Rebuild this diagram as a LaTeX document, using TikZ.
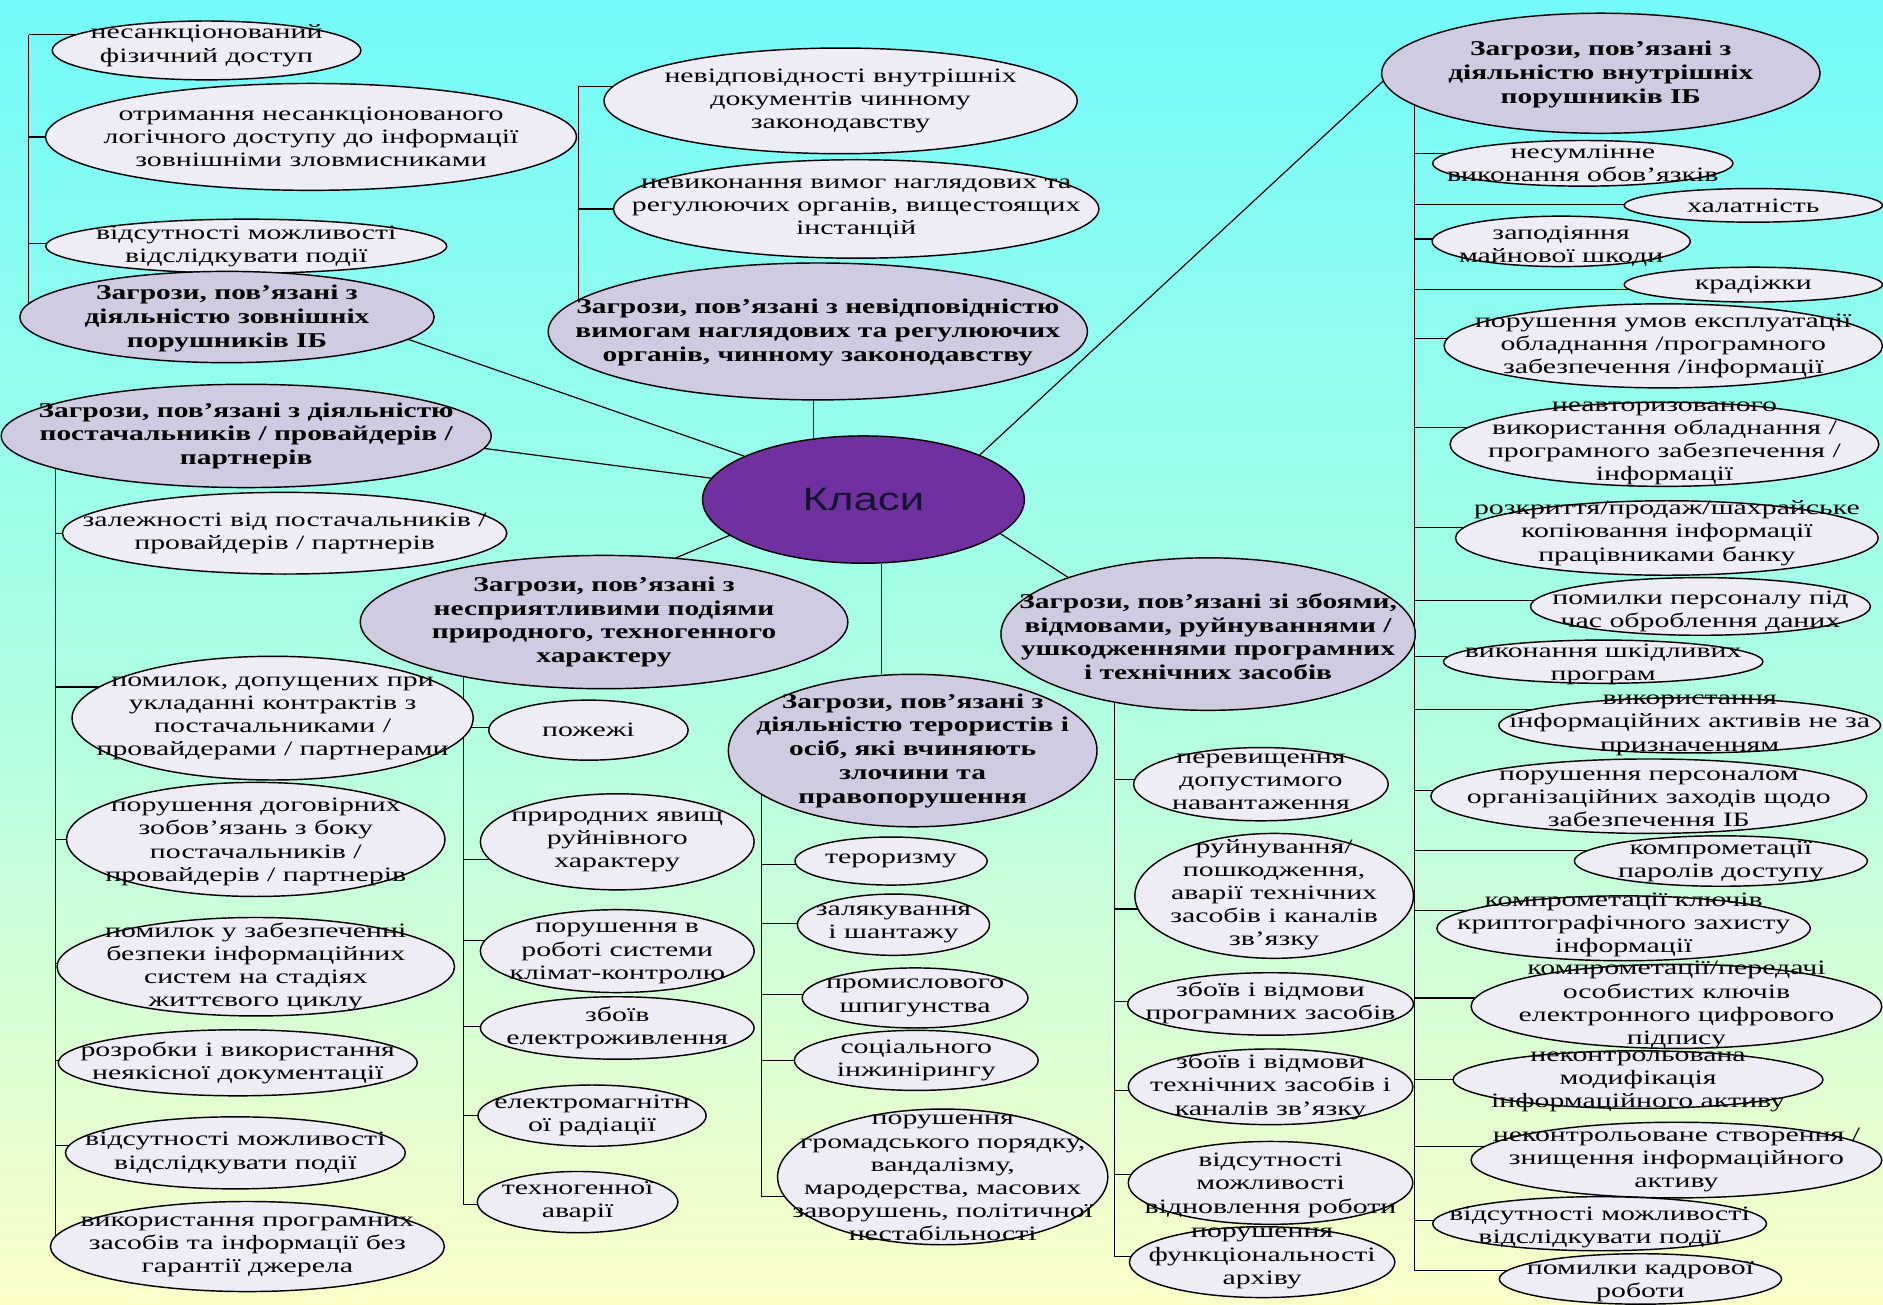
\documentclass[tikz,border=0pt]{standalone}
\usepackage{fontspec}
\usetikzlibrary{shapes.geometric}

\newfontfamily\thrLight[FakeStretch=1.46]{Liberation Serif}
\newfontfamily\thrBold[FakeStretch=1.4]{Liberation Serif}
\newfontfamily\thrTitle[FakeStretch=1.35]{Liberation Sans}
\newcommand\ltfont{\thrLight\fontsize{17}{19.3}\selectfont}
\newcommand\catfont{\thrBold\bfseries\fontsize{17.5}{19.8}\selectfont}
\newcommand\klfont{\thrTitle\fontsize{27}{30}\selectfont}

\definecolor{bgtop}{RGB}{115,250,250}
\definecolor{bgmid}{RGB}{170,255,228}
\definecolor{bgbot}{RGB}{252,255,200}
\definecolor{lightfill}{RGB}{238,236,245}
\definecolor{catfill}{RGB}{207,203,225}
\definecolor{klasifill}{RGB}{112,48,160}
\definecolor{klasitext}{RGB}{20,20,50}

\pgfdeclarelayer{bg}
\pgfdeclarelayer{lines}
\pgfsetlayers{bg,lines,main}

\tikzset{
  lt/.style={ellipse, draw=black, line width=1.2pt, fill=lightfill, inner sep=0pt, outer sep=0pt},
  cat/.style={ellipse, draw=black, line width=1.2pt, fill=catfill, inner sep=0pt, outer sep=0pt},
  lttxt/.style={font=\ltfont, align=center, inner sep=0pt, text=black},
  cattxt/.style={font=\catfont, align=center, inner sep=0pt, text=black},
  conn/.style={draw=black, line width=1pt},
}

% ellipse: style, name, cx, cy, width, height, text shift, text
\newcommand\E[8]{\node[#1, minimum width=#5pt, minimum height=#6pt,
  label={[#1txt, yshift=#7pt]center:{#8}}] (#2) at (#3,#4) {};}
% horizontal branch from a trunk to a node at height y
\newcommand\tk[3]{\draw[conn]
  (perpendicular cs: horizontal line through={(0,#3)}, vertical line through={(#2)}) --
  (perpendicular cs: horizontal line through={(0,#3)}, vertical line through={(#1)});}

\begin{document}
\begin{tikzpicture}[x=1pt, y=-1pt]
\useasboundingbox (0,0) rectangle (1568,1086);
\begin{pgfonlayer}{bg}
  \shade[top color=bgtop, bottom color=bgbot, middle color=bgmid] (0,0) rectangle (1568,1086);
\end{pgfonlayer}

% centre
\node[ellipse, draw=black, line width=1.2pt, fill=klasifill, minimum width=268pt,
  minimum height=106pt, inner sep=0pt, font=\klfont, text=klasitext] (klasi) at (719,416) {Класи};

% external violators
\E{lt}{n1}{172}{42}{257}{49}{4}{несанкціонований\\фізичний доступ}
\E{lt}{n2}{259}{114}{442}{89}{0}{отримання несанкціонованого\\логічного доступу до інформації\\зовнішніми зловмисниками}
\E{lt}{n3}{205}{205}{334}{45}{0}{відсутності можливості\\відслідкувати події}
\E{cat}{extcat}{189}{264}{345}{76}{-1}{Загрози, пов’язані з\\діяльністю зовнішніх\\порушників ІБ}

% suppliers
\E{cat}{supcat}{205}{363}{408}{86}{0}{Загрози, пов’язані з діяльністю\\постачальників / провайдерів /\\партнерів}
\E{lt}{s1}{237}{444}{370}{68}{0}{залежності від постачальників /\\провайдерів / партнерів}
\E{lt}{s2}{227}{598}{334}{103}{0}{помилок, допущених при\\укладанні контрактів з\\постачальниками /\\провайдерами / партнерами}
\E{lt}{s3}{213}{699}{315}{95}{-2}{порушення договірних\\зобов’язань з боку\\постачальників /\\провайдерів / партнерів}
\E{lt}{s4}{213}{805}{331}{82}{0}{помилок у забезпеченні\\безпеки інформаційних\\систем на стадіях\\життєвого циклу}
\E{lt}{s5}{198}{885}{299}{55}{0}{розробки і використання\\неякісної документації}
\E{lt}{s6}{196}{960}{283}{60}{0}{відсутності можливості\\відслідкувати події}
\E{lt}{s7}{206}{1038}{328}{75}{0}{використання програмних\\засобів та інформації без\\гарантії джерела}

% regulatory
\E{lt}{r1}{700}{84}{394}{88}{0}{невідповідності внутрішніх\\документів чинному\\законодавству}
\E{lt}{r2}{713}{174}{404}{82}{0}{невиконання вимог наглядових та\\регулюючих органів, вищестоящих\\інстанцій}
\E{cat}{regcat}{681}{276}{449}{114}{-1}{Загрози, пов’язані з невідповідністю\\вимогам наглядових та регулюючих\\органів, чинному законодавству}

% internal violators
\E{cat}{intcat}{1333}{61}{365}{100}{-1}{Загрози, пов’язані з\\діяльністю внутрішніх\\порушників ІБ}
\E{lt}{i1}{1318}{136}{250}{38}{0}{несумлінне\\виконання обов’язків}
\E{lt}{i2}{1460}{171}{215}{28}{0}{халатність}
\E{lt}{i3}{1300}{201}{215}{42}{-4}{заподіяння\\майнової шкоди}
\E{lt}{i4}{1460}{237}{215}{29}{0}{крадіжки}
\E{lt}{i5}{1385}{288}{365}{70}{0}{порушення умов експлуатації\\обладнання /програмного\\забезпечення /інформації}
\E{lt}{i6}{1386}{370}{357}{70}{1}{неавторизованого\\використання обладнання /\\програмного забезпечення /\\інформації}
\E{lt}{i7}{1388}{448}{352}{62}{4}{розкриття/продаж/шахрайське\\копіювання інформації\\працівниками банку}
\E{lt}{i8}{1416}{505}{283}{48}{-4}{помилки персоналу під\\час оброблення даних}
\E{lt}{i9}{1335}{551}{266}{36}{-2}{виконання шкідливих\\програм}
\E{lt}{i10}{1407}{604}{318}{46}{0}{використання\\інформаційних активів не за\\призначенням}
\E{lt}{i11}{1373}{663}{363}{62}{-2}{порушення персоналом\\організаційних заходів щодо\\забезпечення ІБ}
\E{lt}{i12}{1433}{717}{244}{42}{0}{компрометації\\паролів доступу}
\E{lt}{i13}{1352}{773}{311}{54}{3}{компрометації ключів\\криптографічного захисту\\інформації}
\E{lt}{i14}{1396}{838}{342}{70}{1}{компрометації/передачі\\особистих ключів\\електронного цифрового\\підпису}
\E{lt}{i15}{1364}{899}{308}{48}{-2}{неконтрольована\\модифікація\\інформаційного активу}
\E{lt}{i16}{1396}{966}{342}{63}{0}{неконтрольоване створення /\\знищення інформаційного\\активу}
\E{lt}{i17}{1332}{1019}{278}{45}{-3}{відсутності можливості\\відслідкувати події}
\E{lt}{i18}{1366}{1065}{235}{42}{-2}{помилки кадрової\\роботи}

% hardware and software failures
\E{cat}{techcat}{1006}{528}{345}{127}{-2}{Загрози, пов’язані зі збоями,\\відмовами, руйнуваннями /\\ушкодженнями програмних\\і технічних засобів}
\E{lt}{t1}{1050}{653}{212}{61}{2}{перевищення\\допустимого\\навантаження}
\E{lt}{t2}{1061}{746}{232}{104}{1}{руйнування/\\пошкодження,\\аварії технічних\\засобів і каналів\\зв’язку}
\E{lt}{t3}{1058}{836}{238}{52}{1}{збоїв і відмови\\програмних засобів}
\E{lt}{t4}{1058}{905}{237}{63}{0}{збоїв і відмови\\технічних засобів і\\каналів зв’язку}
\E{lt}{t5}{1058}{985}{237}{69}{-2}{відсутності\\можливості\\відновлення роботи}
\E{lt}{t6}{1051}{1051}{221}{59}{3}{порушення\\функціональності\\архіву}

% terrorists and criminals
\E{cat}{tercat}{760}{625}{307}{127}{0}{Загрози, пов’язані з\\діяльністю терористів і\\осіб, які вчиняють\\злочини та\\правопорушення}
\E{lt}{e1}{742}{717}{160}{40}{0}{тероризму}
\E{lt}{e2}{744}{770}{160}{51}{0}{залякування\\і шантажу}
\E{lt}{e3}{762}{831}{188}{50}{0}{промислового\\шпигунства}
\E{lt}{e4}{763}{883}{203}{50}{0}{соціального\\інжинірингу}
\E{lt}{e5}{785}{980}{275}{113}{-1}{порушення\\громадського порядку,\\вандалізму,\\мародерства, масових\\заворушень, політичної\\нестабільності}

% natural and man-made events
\E{cat}{natcat}{503}{518}{406}{111}{0}{Загрози, пов’язані з\\несприятливими подіями\\природного, техногенного\\характеру}
\E{lt}{a1}{490}{608}{166}{50}{0}{пожежі}
\E{lt}{a2}{514}{701}{228}{80}{0}{природних явищ\\руйнівного\\характеру}
\E{lt}{a3}{514}{792}{228}{69}{-2}{порушення в\\роботі системи\\клімат-контролю}
\E{lt}{a4}{514}{856}{228}{52}{0}{збоїв\\електроживлення}
\E{lt}{a5}{493}{929}{190}{51}{0}{електромагнітн\\ої радіації}
\E{lt}{a6}{481}{1001}{167}{51}{0}{техногенної\\аварії}

% trunk ends
\coordinate (extTop) at (24,29);
\coordinate (supBot) at (46,1037);
\coordinate (regTop) at (482,72);
\coordinate (intBot) at (1178,1058);
\coordinate (techBot) at (928,1046);
\coordinate (terBot) at (634,996);
\coordinate (natBot) at (386,1003);

\begin{pgfonlayer}{lines}
  % links to the centre
  \draw[conn] (extcat.-7) -- (klasi.160);
  \draw[conn] (supcat.-3) -- (klasi.172);
  \draw[conn] (klasi.129) -- (perpendicular cs: vertical line through={(klasi.129)}, horizontal line through={(regcat.south)});
  \draw[conn] (intcat.182) -- (klasi.21);
  \draw[conn] (techcat.158) -- (klasi.-14);
  \draw[conn] (klasi.-74) -- (perpendicular cs: vertical line through={(klasi.-74)}, horizontal line through={(tercat.north)});
  \draw[conn] (natcat.42) -- (klasi.195);

  % trunks
  \draw[conn] (extTop) -- (extTop |- extcat);
  \draw[conn] (supcat -| supBot) -- (supBot);
  \draw[conn] (regTop) -- (regTop |- regcat);
  \draw[conn] (intcat -| intBot) -- (intBot);
  \draw[conn] (techcat -| techBot) -- (techBot);
  \draw[conn] (tercat -| terBot) -- (terBot);
  \draw[conn] (natcat -| natBot) -- (natBot);

  % branches
  \tk{n1}{extTop}{29} \tk{n2}{extTop}{114} \tk{n3}{extTop}{203}
  \tk{s1}{supBot}{444} \tk{s2}{supBot}{572} \tk{s3}{supBot}{699} \tk{s4}{supBot}{802}
  \tk{s5}{supBot}{883} \tk{s6}{supBot}{954} \tk{s7}{supBot}{1037}
  \tk{r1}{regTop}{72} \tk{r2}{regTop}{174}
  \tk{i1}{intBot}{128} \tk{i2}{intBot}{170} \tk{i3}{intBot}{199} \tk{i4}{intBot}{241}
  \tk{i5}{intBot}{282} \tk{i6}{intBot}{356} \tk{i7}{intBot}{439} \tk{i8}{intBot}{500}
  \tk{i9}{intBot}{547} \tk{i10}{intBot}{591} \tk{i11}{intBot}{658} \tk{i12}{intBot}{708}
  \tk{i13}{intBot}{758} \tk{i14}{intBot}{831} \tk{i15}{intBot}{899} \tk{i16}{intBot}{955}
  \tk{i17}{intBot}{1016} \tk{i18}{intBot}{1058}
  \tk{t1}{techBot}{649} \tk{t2}{techBot}{757} \tk{t3}{techBot}{834} \tk{t4}{techBot}{908}
  \tk{t5}{techBot}{978} \tk{t6}{techBot}{1046}
  \tk{e1}{terBot}{720} \tk{e2}{terBot}{769} \tk{e3}{terBot}{828} \tk{e4}{terBot}{883} \tk{e5}{terBot}{996}
  \tk{a1}{natBot}{606} \tk{a2}{natBot}{716} \tk{a3}{natBot}{783} \tk{a4}{natBot}{855}
  \tk{a5}{natBot}{929} \tk{a6}{natBot}{1003}
\end{pgfonlayer}
\end{tikzpicture}
\end{document}
